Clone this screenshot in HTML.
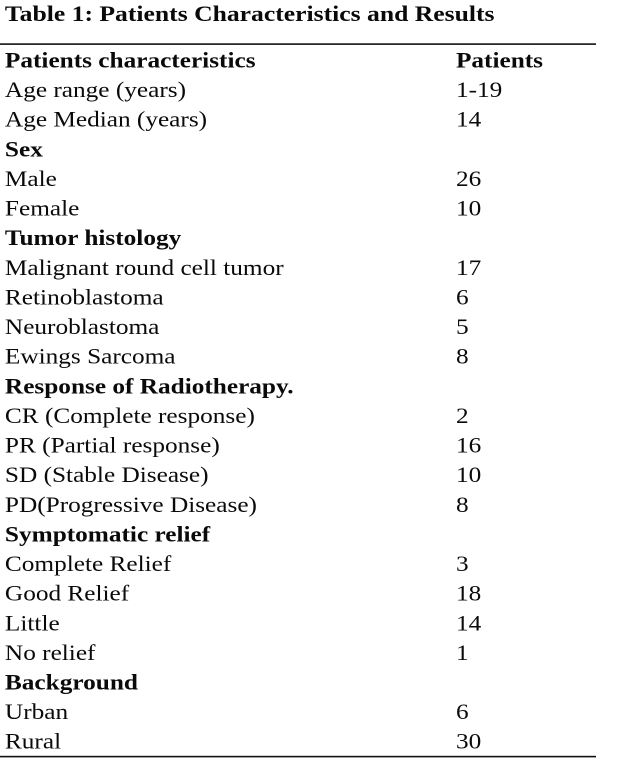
<!DOCTYPE html>
<html>
<head>
<meta charset="utf-8">
<style>
  html,body{margin:0;padding:0;background:#fff;}
  body{width:623px;height:764px;overflow:hidden;}
  svg{display:block;}
  text{font-family:"Liberation Serif","DejaVu Serif",serif;fill:#0a0a0a;}
  .b{font-weight:bold;}
</style>
</head>
<body>
<svg width="623" height="764" viewBox="0 0 623 764" xmlns="http://www.w3.org/2000/svg">
  <rect x="0" y="0" width="623" height="764" fill="#fff"/>
  <rect x="0" y="43.3" width="596" height="1.6" fill="#111"/>
  <rect x="0" y="755.8" width="596" height="1.6" fill="#111"/>
  <g transform="scale(1.15,1)" font-size="22">
    <text class="b" x="4.3" y="21" font-size="22.3">Table 1: Patients Characteristics and Results</text>

    <text class="b" x="4.3" y="67.5">Patients characteristics</text>
    <text class="b" x="396.5" y="67.5">Patients</text>

    <text x="4.3" y="97.1">Age range (years)</text>
    <text x="396.5" y="97.1">1-19</text>

    <text x="4.3" y="126.7">Age Median (years)</text>
    <text x="396.5" y="126.7">14</text>

    <text class="b" x="4.3" y="156.4">Sex</text>

    <text x="4.3" y="186.0">Male</text>
    <text x="396.5" y="186.0">26</text>

    <text x="4.3" y="215.6">Female</text>
    <text x="396.5" y="215.6">10</text>

    <text class="b" x="4.3" y="245.2">Tumor histology</text>

    <text x="4.3" y="274.8">Malignant round cell tumor</text>
    <text x="396.5" y="274.8">17</text>

    <text x="4.3" y="304.5">Retinoblastoma</text>
    <text x="396.5" y="304.5">6</text>

    <text x="4.3" y="334.1">Neuroblastoma</text>
    <text x="396.5" y="334.1">5</text>

    <text x="4.3" y="363.7">Ewings Sarcoma</text>
    <text x="396.5" y="363.7">8</text>

    <text class="b" x="4.3" y="393.3">Response of Radiotherapy.</text>

    <text x="4.3" y="422.9">CR (Complete response)</text>
    <text x="396.5" y="422.9">2</text>

    <text x="4.3" y="452.6">PR (Partial response)</text>
    <text x="396.5" y="452.6">16</text>

    <text x="4.3" y="482.2">SD (Stable Disease)</text>
    <text x="396.5" y="482.2">10</text>

    <text x="4.3" y="511.8">PD(Progressive Disease)</text>
    <text x="396.5" y="511.8">8</text>

    <text class="b" x="4.3" y="541.4">Symptomatic relief</text>

    <text x="4.3" y="571.0">Complete Relief</text>
    <text x="396.5" y="571.0">3</text>

    <text x="4.3" y="600.7">Good Relief</text>
    <text x="396.5" y="600.7">18</text>

    <text x="4.3" y="630.3">Little</text>
    <text x="396.5" y="630.3">14</text>

    <text x="4.3" y="659.9">No relief</text>
    <text x="396.5" y="659.9">1</text>

    <text class="b" x="4.3" y="689.5">Background</text>

    <text x="4.3" y="719.1">Urban</text>
    <text x="396.5" y="719.1">6</text>

    <text x="4.3" y="748.4">Rural</text>
    <text x="396.5" y="748.4">30</text>
  </g>
</svg>
</body>
</html>
